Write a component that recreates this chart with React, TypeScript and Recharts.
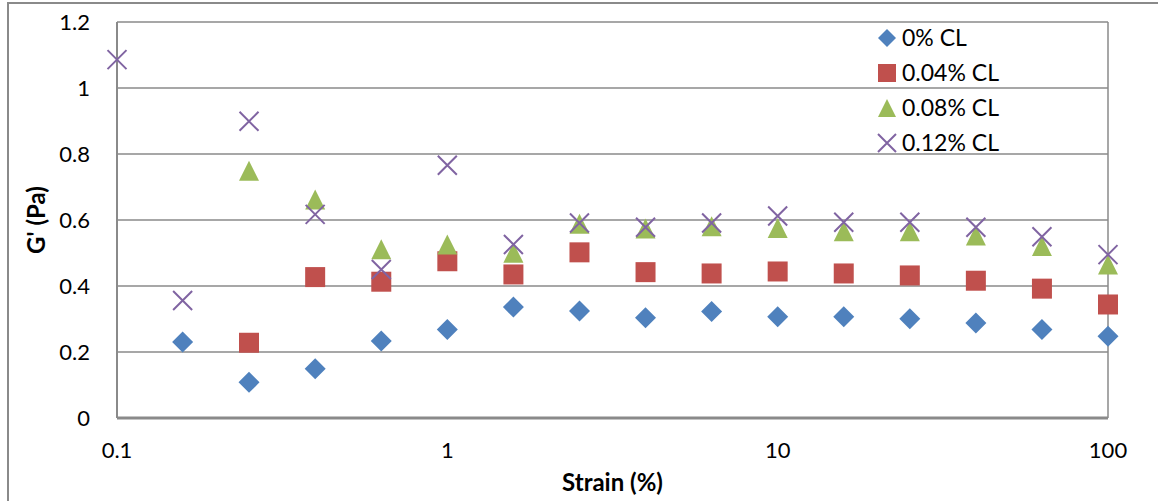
import React from "react";
import {
  ScatterChart,
  Scatter,
  XAxis,
  YAxis,
  CartesianGrid,
  ReferenceLine,
  Legend,
} from "recharts";

// Strain sweep points (%), shared by every series
const strain = [0.1, 0.158, 0.251, 0.398, 0.631, 1, 1.585, 2.512, 3.981, 6.31, 10, 15.85, 25.12, 39.81, 63.1, 100];

// Storage modulus G' (Pa) per crosslinker level; null = not measured
const cl0 = [null, 0.23, 0.108, 0.149, 0.233, 0.268, 0.336, 0.324, 0.304, 0.323, 0.307, 0.307, 0.301, 0.288, 0.268, 0.248];
const cl004 = [null, null, 0.228, 0.427, 0.413, 0.475, 0.435, 0.502, 0.442, 0.438, 0.444, 0.438, 0.432, 0.416, 0.392, 0.344];
const cl008 = [null, null, 0.749, 0.662, 0.511, 0.526, 0.501, 0.589, 0.574, 0.581, 0.576, 0.566, 0.566, 0.553, 0.521, 0.465];
const cl012 = [1.086, 0.356, 0.899, 0.617, 0.45, 0.766, 0.526, 0.591, 0.578, 0.591, 0.612, 0.593, 0.593, 0.578, 0.549, 0.495];

const seriesNames = ["0% CL", "0.04% CL", "0.08% CL", "0.12% CL"];
const xTicks = [0.1, 1, 10, 100];
const yTicks = [0, 0.2, 0.4, 0.6, 0.8, 1, 1.2];

const toPoints = (vals: (number | null)[]) =>
  strain
    .map((s, i) => ({ x: s, y: vals[i] }))
    .filter((p) => p.y !== null);

const BLUE = "#4F81BD";
const RED = "#C0504D";
const GREEN = "#9BBB59";
const PURPLE = "#8064A2";
const GRID = "#8a8a8a";
const FONT = "Lato, 'Open Sans', sans-serif";

type MarkerKind = "diamond" | "square" | "triangle" | "cross";

function markerPath(kind: MarkerKind, cx: number, cy: number, s: number) {
  const h = s / 2;
  switch (kind) {
    case "diamond":
      return `M${cx},${cy - h}L${cx + h},${cy}L${cx},${cy + h}L${cx - h},${cy}Z`;
    case "square":
      return `M${cx - h},${cy - h}H${cx + h}V${cy + h}H${cx - h}Z`;
    case "triangle":
      return `M${cx},${cy - h}L${cx + h},${cy + h}L${cx - h},${cy + h}Z`;
    default:
      return `M${cx - h},${cy - h}L${cx + h},${cy + h}M${cx + h},${cy - h}L${cx - h},${cy + h}`;
  }
}

function Marker({ kind, cx, cy, size, color }: { kind: MarkerKind; cx: number; cy: number; size: number; color: string }) {
  if (kind === "cross") {
    return <path d={markerPath(kind, cx, cy, size)} stroke={color} strokeWidth={2} fill="none" />;
  }
  return <path d={markerPath(kind, cx, cy, size)} fill={color} stroke="none" />;
}

const makeShape = (kind: MarkerKind, color: string, size: number) => (props: any) => {
  const { cx, cy } = props;
  if (cx == null || cy == null) return <g />;
  return <Marker kind={kind} cx={cx} cy={cy} size={size} color={color} />;
};

const legendItems: { name: string; kind: MarkerKind; color: string }[] = [
  { name: seriesNames[0], kind: "diamond", color: BLUE },
  { name: seriesNames[1], kind: "square", color: RED },
  { name: seriesNames[2], kind: "triangle", color: GREEN },
  { name: seriesNames[3], kind: "cross", color: PURPLE },
];

const LegendBox = () => (
  <div style={{ fontFamily: FONT, fontSize: 23, color: "#000" }}>
    {legendItems.map((it) => (
      <div key={it.name} style={{ display: "flex", alignItems: "center", height: 35 }}>
        <svg width={20} height={20} style={{ marginRight: 5 }}>
          <Marker kind={it.kind} cx={10} cy={10} size={18} color={it.color} />
        </svg>
        <span style={{ lineHeight: "35px" }}>{it.name}</span>
      </div>
    ))}
  </div>
);

const YTitle = (props: any) => {
  const vb = props.viewBox || {};
  const cx = 35;
  const cy = (vb.y ?? 0) + (vb.height ?? 0) / 2;
  return (
    <text
      x={cx}
      y={cy}
      transform={`rotate(-90 ${cx} ${cy})`}
      textAnchor="middle"
      dominantBaseline="central"
      fontFamily={FONT}
      fontWeight="bold"
      fontSize={24}
      fill="#000"
    >
      G' (Pa)
    </text>
  );
};

const XTitle = (props: any) => {
  const vb = props.viewBox || {};
  const cx = (vb.x ?? 0) + (vb.width ?? 0) / 2;
  return (
    <text x={cx} y={491} textAnchor="middle" fontFamily={FONT} fontWeight="bold" fontSize={24} fill="#000">
      Strain (%)
    </text>
  );
};

export default function App() {
  return (
    <div
      style={{
        position: "absolute",
        left: 0,
        top: 0,
        width: 1158,
        height: 501,
        overflow: "hidden",
        background: "#fff",
      }}
    >
      <div
        style={{
          position: "absolute",
          left: 7,
          top: 2,
          width: 1200,
          height: 600,
          borderLeft: `2px solid ${GRID}`,
          borderTop: `2px solid ${GRID}`,
        }}
      />
      <div style={{ position: "absolute", left: 0, top: 0 }}>
        <ScatterChart width={1158} height={501} margin={{ top: 22, right: 50, left: 0, bottom: 0 }}>
          <CartesianGrid horizontal vertical={false} stroke={GRID} strokeWidth={1.5} />
          <XAxis
            type="number"
            dataKey="x"
            scale="log"
            domain={[0.1, 100]}
            ticks={xTicks}
            height={83}
            axisLine={{ stroke: GRID, strokeWidth: 3 }}
            tickLine={false}
            tickSize={6}
            tickMargin={18}
            tick={{ fontFamily: FONT, fontSize: 22, fill: "#000" }}
            tickFormatter={(v: number) => String(v)}
            label={{ content: XTitle }}
          />
          <YAxis
            type="number"
            dataKey="y"
            domain={[0, 1.2]}
            ticks={yTicks}
            width={117}
            axisLine={{ stroke: GRID, strokeWidth: 2 }}
            tickLine={false}
            tickSize={6}
            tickMargin={21}
            tick={{ fontFamily: FONT, fontSize: 22, fill: "#000" }}
            tickFormatter={(v: number) => String(Math.round(v * 10) / 10)}
            label={{ content: YTitle }}
          />
          <ReferenceLine x={100} stroke={GRID} strokeWidth={1.5} />
          <Legend
            layout="vertical"
            align="center"
            verticalAlign="middle"
            content={() => <LegendBox />}
            wrapperStyle={{ left: 877, top: 20, width: 170, height: 140 }}
          />
          <Scatter name={seriesNames[0]} data={toPoints(cl0)} fill={BLUE} shape={makeShape("diamond", BLUE, 21)} isAnimationActive={false} />
          <Scatter name={seriesNames[1]} data={toPoints(cl004)} fill={RED} shape={makeShape("square", RED, 20)} isAnimationActive={false} />
          <Scatter name={seriesNames[2]} data={toPoints(cl008)} fill={GREEN} shape={makeShape("triangle", GREEN, 20)} isAnimationActive={false} />
          <Scatter name={seriesNames[3]} data={toPoints(cl012)} fill={PURPLE} shape={makeShape("cross", PURPLE, 19)} isAnimationActive={false} />
        </ScatterChart>
      </div>
    </div>
  );
}
